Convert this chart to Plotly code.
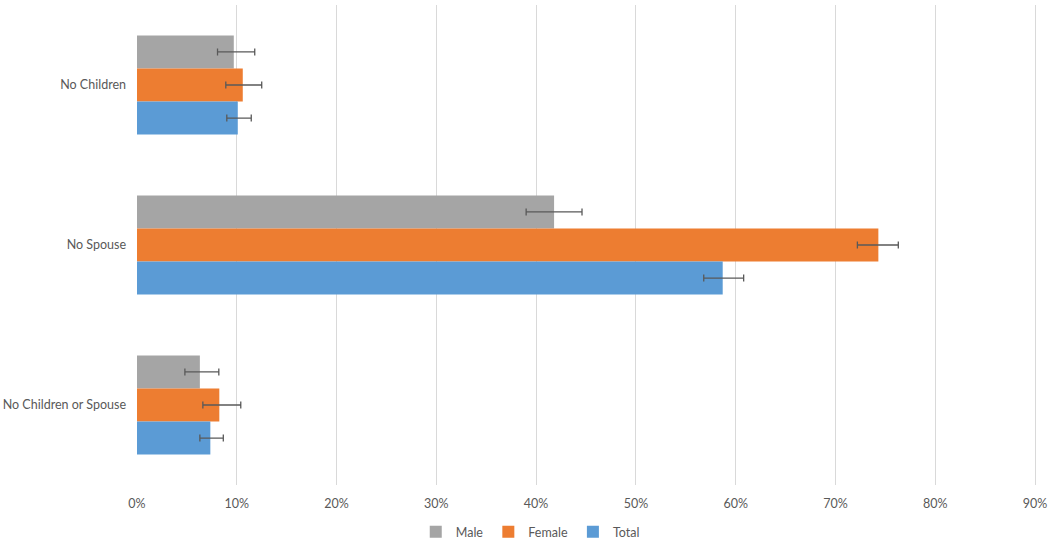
import plotly.graph_objects as go

categories = ["No Children", "No Spouse", "No Children or Spouse"]
series_names = ["Male", "Female", "Total"]
male = [0.097, 0.418, 0.063]
female = [0.106, 0.743, 0.0825]
total = [0.101, 0.587, 0.0735]
male_lo = [0.0807, 0.390, 0.048]
male_hi = [0.118, 0.446, 0.082]
female_lo = [0.089, 0.722, 0.066]
female_hi = [0.125, 0.763, 0.104]
total_lo = [0.090, 0.568, 0.063]
total_hi = [0.1145, 0.608, 0.0865]
colors = ["#A5A5A5", "#ED7D31", "#5B9BD5"]
tick_vals = [i / 10 for i in range(10)]
tick_text = [f"{i*10}%" for i in range(10)]

fig = go.Figure()
for name, vals, lo, hi, col in zip(series_names, [male, female, total],
                                   [male_lo, female_lo, total_lo],
                                   [male_hi, female_hi, total_hi], colors):
    fig.add_trace(go.Bar(
        y=categories, x=vals, name=name, orientation="h",
        marker=dict(color=col, line=dict(width=0)),
        error_x=dict(type="data", symmetric=False,
                     array=[h - v for h, v in zip(hi, vals)],
                     arrayminus=[v - l for v, l in zip(vals, lo)],
                     color="#595959", thickness=1.3, width=3.5),
    ))

fig.update_layout(
    barmode="group", bargap=0.38, bargroupgap=0,
    width=1050, height=542,
    margin=dict(l=137, r=10, t=5, b=57, autoexpand=False),
    plot_bgcolor="white", paper_bgcolor="white",
    font=dict(family="Lato, Open Sans, sans-serif", size=12.5, color="#595959"),
    xaxis=dict(range=[0, 0.905], tickvals=tick_vals, ticktext=tick_text,
               showgrid=True, gridcolor="#D9D9D9", gridwidth=1,
               zeroline=False, showline=False, ticks="", ticklabelstandoff=9,
               automargin=False),
    yaxis=dict(autorange="reversed", showgrid=False, zeroline=False,
               showline=False, ticks="", ticklabelstandoff=10, automargin=False),
    legend=dict(orientation="h", xref="container", yref="paper",
                x=0.505, xanchor="center", y=-0.098, yanchor="middle",
                font=dict(size=12.5, color="#595959"), itemwidth=30,
                tracegroupgap=0),
)
fig.write_html(
    "out.html",
    config={"displayModeBar": False},
    post_script="document.body.style.margin='0';document.body.style.overflow='hidden';",
)
